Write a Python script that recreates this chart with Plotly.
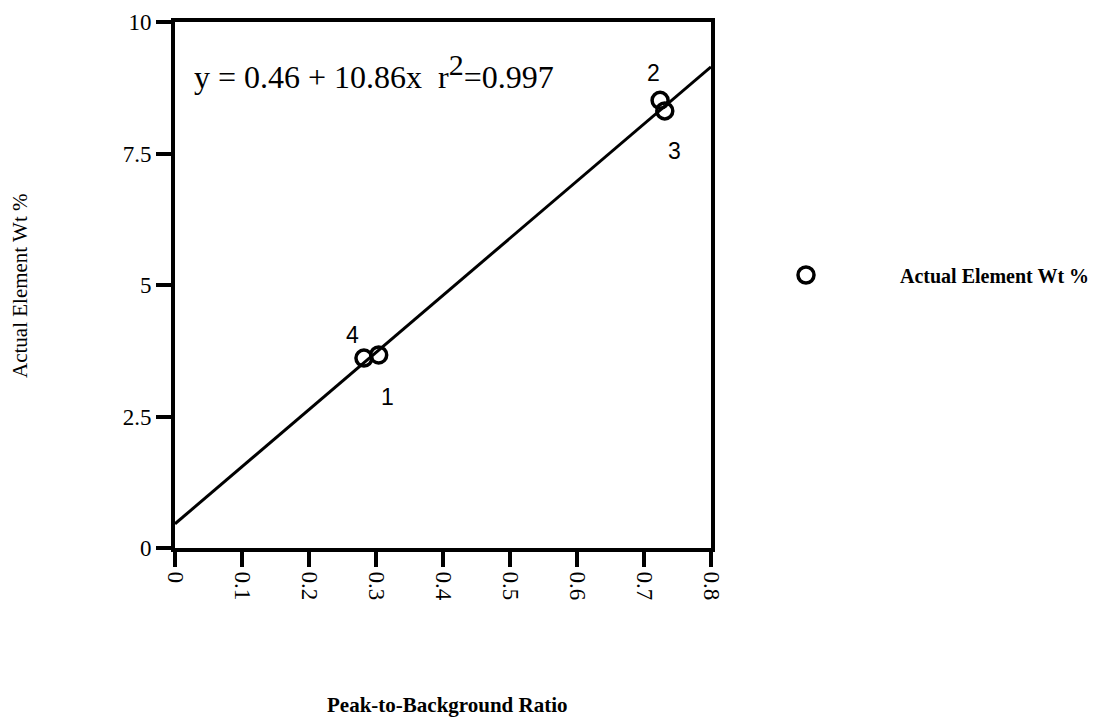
import plotly.graph_objects as go

# Data
ratio = [0.304, 0.724, 0.731, 0.282]
wt_pct = [3.67, 8.51, 8.31, 3.61]
point_labels = ["1", "2", "3", "4"]
intercept = 0.46
slope = 10.86
x_tick_vals = [0, 0.1, 0.2, 0.3, 0.4, 0.5, 0.6, 0.7, 0.8]
x_tick_text = ["0", "0.1", "0.2", "0.3", "0.4", "0.5", "0.6", "0.7", "0.8"]
y_tick_vals = [0, 2.5, 5, 7.5, 10]
y_tick_text = ["0", "2.5", "5", "7.5", "10"]
equation_text = "y = 0.46 + 10.86x  r<sup><span style='font-size:30px'>2</span></sup>=0.997"
x_title = "Peak-to-Background Ratio"
y_title = "Actual Element Wt %"
series_name = "Actual Element Wt %"

fit_x = [x_tick_vals[0], x_tick_vals[-1]]
fit_y = [intercept + slope * v for v in fit_x]

SERIF = "Liberation Serif, Times New Roman, serif"
SANS = "Liberation Sans, Arial, sans-serif"

fig = go.Figure()
fig.add_trace(go.Scatter(x=fit_x, y=fit_y, mode="lines",
                         line=dict(color="black", width=3), showlegend=False,
                         hoverinfo="skip"))
fig.add_trace(go.Scatter(x=ratio, y=wt_pct, mode="markers",
                         name="<b>" + series_name + "</b>",
                         marker=dict(symbol="circle-open", size=16, color="black",
                                     line=dict(width=3.5, color="black"))))

# pixel offsets of the point numbers (right, down)
label_offsets = {"1": (9, 42), "2": (-7, -27), "3": (10, 40), "4": (-11, -23)}
for xv, yv, lab in zip(ratio, wt_pct, point_labels):
    dx, dy = label_offsets[lab]
    fig.add_annotation(x=xv, y=yv, text=lab, showarrow=False, xshift=dx, yshift=-dy,
                       font=dict(family=SANS, size=23, color="black"))

fig.add_annotation(xref="paper", yref="paper", x=0.032, y=0.905, xanchor="left",
                   yanchor="middle", text=equation_text, showarrow=False,
                   font=dict(family=SERIF, size=32, color="black"))

fig.add_annotation(xref="paper", yref="paper", x=(447 - 175) / 536, y=(545 - 702) / 526,
                   xanchor="center", yanchor="middle", text="<b>" + x_title + "</b>",
                   showarrow=False, font=dict(family=SERIF, size=21, color="black"))
fig.add_annotation(xref="paper", yref="paper", x=(20 - 175) / 536, y=(545 - 283) / 526,
                   xanchor="center", yanchor="middle", text=y_title, textangle=-90,
                   showarrow=False, font=dict(family=SERIF, size=21, color="black"))

axis_common = dict(showline=True, linewidth=4, linecolor="black", mirror=True,
                   ticks="outside", ticklen=15, tickwidth=3.5, tickcolor="black",
                   showgrid=False, zeroline=False, automargin=False,
                   ticklabeloverflow="allow",
                   tickfont=dict(family=SERIF, size=23, color="black"))

fig.update_xaxes(range=[0, 0.8], tickvals=x_tick_vals, ticktext=x_tick_text,
                 tickangle=90, **axis_common)
fig.update_yaxes(range=[0, 10], tickvals=y_tick_vals, ticktext=y_tick_text,
                 **axis_common)

fig.update_layout(
    width=1108, height=713,
    margin=dict(l=167, r=405, t=14, b=173, autoexpand=False),
    plot_bgcolor="white", paper_bgcolor="white",
    legend=dict(xref="container", yref="container", x=704 / 1108, y=1 - 267 / 713,
                xanchor="left", yanchor="middle", itemwidth=178,
                font=dict(family=SERIF, size=20, color="black"),
                bgcolor="rgba(0,0,0,0)"),
)

fig.write_html("out.html")
